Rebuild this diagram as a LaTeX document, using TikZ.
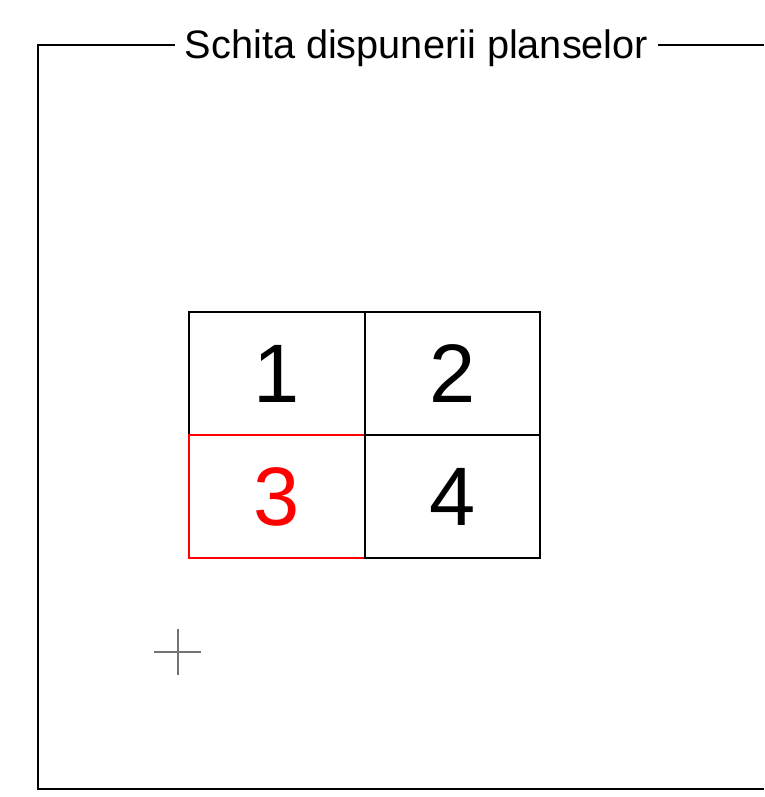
\documentclass[tikz,border=0pt]{standalone}
\usepackage{fontspec}
\setmainfont{Liberation Sans}
\usetikzlibrary{positioning}

\begin{document}
\begin{tikzpicture}[
  x=1pt, y=-1pt,
  cell/.style={rectangle, draw, line width=1.6pt, inner sep=0pt, outer sep=0pt,
    minimum width=175.5pt, minimum height=123pt, font=\fontsize{83}{83}\selectfont},
  frameline/.style={line width=1.6pt},
  cross/.style={line width=1.6pt, draw=black!55},
]
\useasboundingbox (0,0) rectangle (764,797);

\node[inner xsep=10pt, inner ysep=0pt, font=\fontsize{39.7}{39.7}\selectfont] (title) at (416.5,48) {Schita dispunerii planselor};
\coordinate (tl) at (38,45);
\coordinate (tr) at (764,45);
\coordinate (bl) at (38,789);
\coordinate (br) at (764,789);

\draw[frameline] (title.west |- tl) -- (tl) -- (bl) -- (br);
\draw[frameline] (title.east |- tr) -- (tr);

% plansele
\node[cell] (cell1) at (277,373.5) {1};
\node[cell] (cell2) at (452.5,373.5) {2};
\node[cell, draw=red, text=red] (cell3) at (277,496.5) {3};
\node[cell] (cell4) at (452.5,496.5) {4};

% reper
\coordinate (ucs) at (178,652);
\draw[cross] ([xshift=-24pt]ucs) -- ([xshift=23pt]ucs);
\draw[cross] ([yshift=-23pt]ucs) -- ([yshift=23pt]ucs);

\end{tikzpicture}
\end{document}
